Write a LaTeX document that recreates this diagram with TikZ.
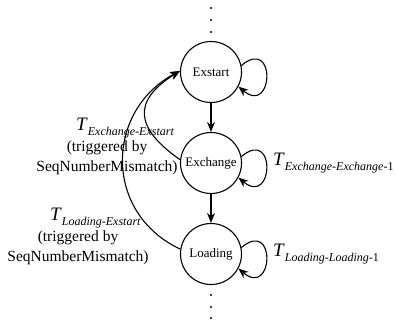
\documentclass[tikz,border=0pt]{standalone}
\usepackage{fontspec}
\setmainfont{Liberation Serif}
\usepackage{tikz}
\usetikzlibrary{arrows.meta,positioning}
\tikzstyle{state} = [circle, minimum size=61pt, inner sep=0pt, draw, line width=1.1pt, font=\fontsize{13}{15}\selectfont]
\tikzstyle{arrow} = [line width=1.1pt,->,>={Stealth[length=10pt,width=8pt]}]
\tikzstyle{tlabel} = [inner sep=0pt, font=\fontsize{19}{22}\selectfont]
\tikzstyle{why} = [inner sep=0pt, align=center, font=\fontsize{15.5}{19.5}\selectfont]
\newcommand{\trans}[1]{\textit{T}\raisebox{-5pt}{\fontsize{12}{14}\selectfont #1}}

\begin{document}
\begin{tikzpicture}[x=1pt,y=1pt,node distance=91pt]
\useasboundingbox (0,0) rectangle (398,322);
\node (exstart) [state] at (211,250) {Exstart};
\node (exchange) [state, below of=exstart] {Exchange};
\node (loading) [state, below of=exchange] {Loading};
% dots above and below
\foreach \y in {314,302,290,27,15,4} \fill (211,\y) circle (1.2pt);
\draw[arrow] (exstart) -- (exchange);
\draw[arrow] (exchange) -- (loading);
% self loops
\draw[arrow] (exstart.12) to[out=40, in=-40, distance=46pt] (exstart.-28);
\draw[arrow] (exchange.12) to[out=40, in=-40, distance=46pt] (exchange.-28);
\draw[arrow] (loading.12) to[out=40, in=-40, distance=46pt] (loading.-28);
% back to exstart
\draw[arrow] (exchange.174) to[out=145, in=212, distance=56pt] (exstart.178);
\draw[arrow] (loading.171) to[out=155, in=208, distance=85pt] (exstart.178);
% labels
\node (tee) [tlabel, anchor=base west] at (76,192) {\trans{\textit{Exchange-Exstart}}};
\node (whyee) [why] at (107,164) {(triggered by\\SeqNumberMismatch)};
\node (tle) [tlabel, anchor=base west] at (50,102) {\trans{\textit{Loading-Exstart}}};
\node (whyle) [why] at (78,74) {(triggered by\\SeqNumberMismatch)};
\node (txx) [tlabel, anchor=base west] at (273,157) {\trans{\textit{Exchange-Exchange}-1}};
\node (tll) [tlabel, anchor=base west] at (273,66) {\trans{\textit{Loading-Loading}-1}};
\end{tikzpicture}
\end{document}
